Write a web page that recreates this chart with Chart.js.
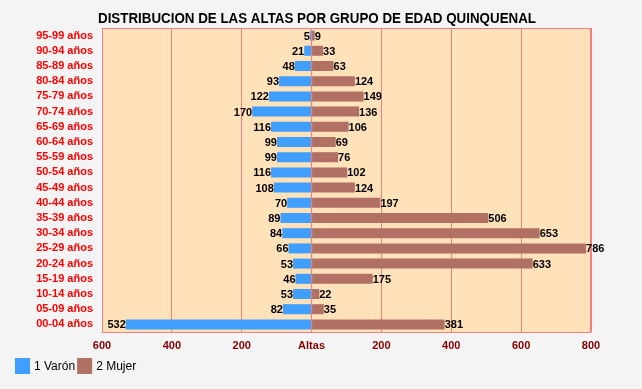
<!DOCTYPE html>
<html>
<head>
<meta charset="utf-8">
<script src="https://cdn.jsdelivr.net/npm/chart.js@4/dist/chart.umd.min.js"></script>
<style>
  html, body { margin: 0; padding: 0; background: #f4f4f4; }
  #wrap { width: 642px; height: 389px; }
</style>
</head>
<body>
<div id="wrap"><canvas id="altasChart" width="642" height="389"></canvas></div>
<script>
// datos
const grupos = ['95-99 años', '90-94 años', '85-89 años', '80-84 años', '75-79 años',
    '70-74 años', '65-69 años', '60-64 años', '55-59 años', '50-54 años',
    '45-49 años', '40-44 años', '35-39 años', '30-34 años', '25-29 años',
    '20-24 años', '15-19 años', '10-14 años', '05-09 años', '00-04 años'];
const varones = [5, 21, 48, 93, 122, 170, 116, 99, 99, 116, 108, 70, 89, 84, 66, 53, 46, 53, 82, 532];
const mujeres = [9, 33, 63, 124, 149, 136, 106, 69, 76, 102, 124, 197, 506, 653, 786, 633, 175, 22, 35, 381];
const ejeMin = -600;
const ejeMax = 800;
const paso = 200;
const etiquetaCero = 'Altas';
const titulo = 'DISTRIBUCION DE LAS ALTAS POR GRUPO DE EDAD QUINQUENAL';

const AZUL = '#409ffe';
const MARRON = '#b07064';

// fondo del area de trazado
const fondoArea = {
    id: 'fondoArea',
    beforeDraw(chart) {
        const { ctx, chartArea: a } = chart;
        ctx.save();
        ctx.fillStyle = '#ffe1ba';
        ctx.fillRect(a.left, a.top, a.right - a.left, a.bottom - a.top);
        ctx.restore();
    },
    afterDatasetsDraw(chart) {
        const { ctx, chartArea: a } = chart;
        ctx.save();
        ctx.strokeStyle = '#f08080';
        ctx.lineWidth = 1;
        ctx.strokeRect(a.left + 0.5, a.top + 0.5, a.right - a.left - 1, a.bottom - a.top);
        ctx.restore();
    }
};

// numeros al final de cada barra
const valores = {
    id: 'valores',
    afterDatasetsDraw(chart) {
        const ctx = chart.ctx;
        ctx.save();
        ctx.font = 'bold 11px "Liberation Sans", Arial, sans-serif';
        ctx.fillStyle = '#000';
        ctx.textBaseline = 'middle';
        chart.data.datasets.forEach((ds, i) => {
            chart.getDatasetMeta(i).data.forEach((bar, j) => {
                const v = ds.data[j];
                if (v < 0) {
                    ctx.textAlign = 'right';
                    ctx.fillText(String(-v), bar.x, bar.y + 1);
                } else {
                    ctx.textAlign = 'left';
                    ctx.fillText(String(v), bar.x, bar.y + 1);
                }
            });
        });
        ctx.restore();
    }
};

// titulo y leyenda dibujados a mano
const tituloLeyenda = {
    id: 'tituloLeyenda',
    afterDraw(chart) {
        const ctx = chart.ctx;
        ctx.save();
        ctx.font = 'bold 14px "Liberation Sans", Arial, sans-serif';
        ctx.fillStyle = '#000';
        ctx.textBaseline = 'middle';
        ctx.textAlign = 'center';
        const w = ctx.measureText(titulo).width;
        const sx = 438 / w;
        ctx.translate(317, 19);
        ctx.scale(sx, 1);
        ctx.fillText(titulo, 0, 0);
        ctx.restore();

        ctx.save();
        ctx.font = '12px "Liberation Sans", Arial, sans-serif';
        ctx.textBaseline = 'middle';
        ctx.textAlign = 'left';
        let x = 15;
        chart.data.datasets.forEach(ds => {
            ctx.fillStyle = ds.backgroundColor;
            ctx.fillRect(x, 358, 15, 16);
            ctx.fillStyle = '#000';
            ctx.fillText(ds.label, x + 19, 367);
            x += 19 + ctx.measureText(ds.label).width + 2;
        });
        ctx.restore();
    }
};

const altasChart = new Chart(document.getElementById('altasChart').getContext('2d'), {
    type: 'bar',
    data: {
        labels: grupos,
        datasets: [
            {
                label: '1 Varón',
                data: varones.map(v => -v),
                backgroundColor: AZUL,
                borderWidth: 0,
                barPercentage: 0.66,
                categoryPercentage: 1,
            },
            {
                label: '2 Mujer',
                data: mujeres,
                backgroundColor: MARRON,
                borderWidth: 0,
                barPercentage: 0.66,
                categoryPercentage: 1,
            },
        ],
    },
    options: {
        indexAxis: 'y',
        responsive: false,
        animation: false,
        layout: { padding: { top: 28, right: 51, left: 0, bottom: 31 } },
        plugins: {
            legend: { display: false },
            title: { display: false },
            tooltip: { enabled: false },
        },
        scales: {
            x: {
                stacked: true,
                min: ejeMin,
                max: ejeMax,
                border: { display: false },
                grid: { color: '#f08080', drawTicks: false, lineWidth: 1 },
                ticks: {
                    stepSize: paso,
                    padding: 7,
                    color: '#800000',
                    font: { family: '"Liberation Sans", Arial, sans-serif', size: 11, weight: 'bold' },
                    callback: v => v === 0 ? etiquetaCero : Math.abs(v),
                },
                afterFit: s => { s.height = 26; },
            },
            y: {
                stacked: true,
                border: { display: false },
                grid: { display: false, drawTicks: false },
                ticks: {
                    autoSkip: false,
                    padding: 9,
                    color: '#ff0000',
                    font: { family: '"Liberation Sans", Arial, sans-serif', size: 11, weight: 'bold' },
                },
                afterFit: s => { s.width = 102; },
            },
        },
    },
    plugins: [fondoArea, valores, tituloLeyenda],
});
</script>
</body>
</html>
